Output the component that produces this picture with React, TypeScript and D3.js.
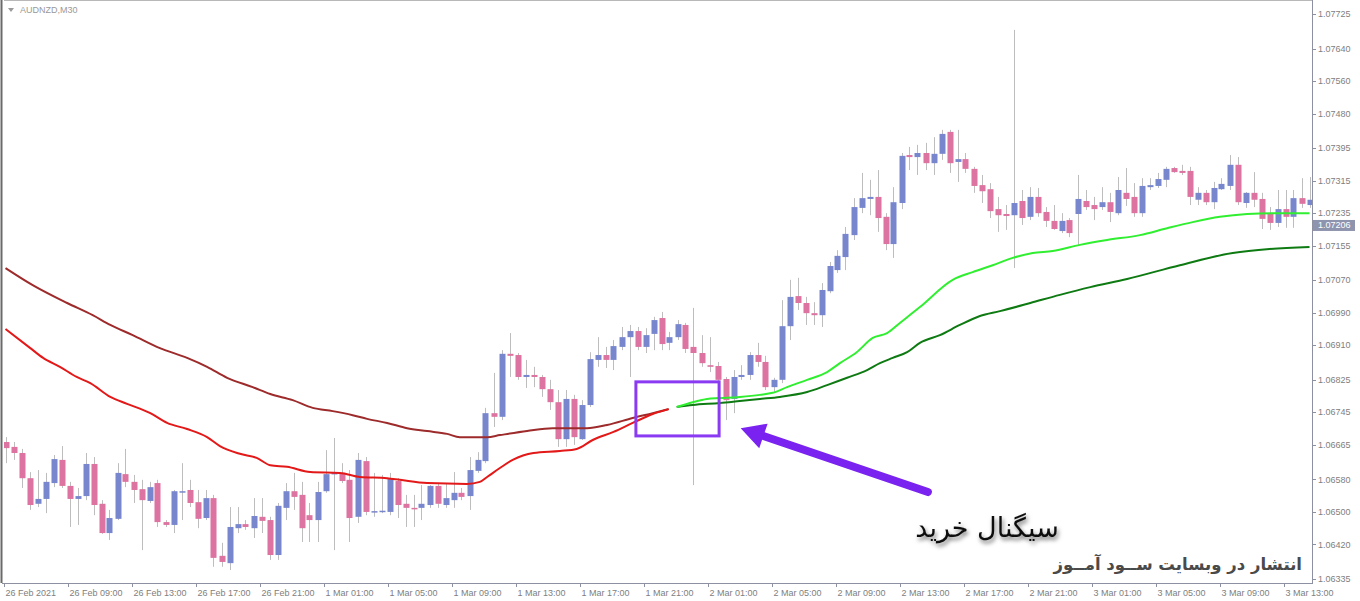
import React from "react";
import * as d3 from "d3";

// ---------- data (AUDNZD, M30) ----------
const OPEN = [1.06672,1.06660,1.06645,1.06583,1.06520,1.06532,1.06571,1.06628,1.06564,1.06532,1.06539,1.06618,1.06520,1.06448,1.06483,1.06593,1.06574,1.06556,1.06527,1.06571,1.06475,1.06468,1.06549,1.06554,1.06524,1.06485,1.06534,1.06392,1.06374,1.06460,1.06470,1.06460,1.06488,1.06480,1.06394,1.06510,1.06551,1.06542,1.06492,1.06480,1.06551,1.06593,1.06596,1.06579,1.06488,1.06625,1.06500,1.06502,1.06500,1.06576,1.06520,1.06510,1.06510,1.06517,1.06564,1.06517,1.06529,1.06547,1.06539,1.06601,1.06625,1.06743,1.06734,1.06889,1.06886,1.06832,1.06837,1.06832,1.06802,1.06770,1.06679,1.06778,1.06679,1.06763,1.06874,1.06886,1.06874,1.06906,1.06930,1.06945,1.06906,1.06938,1.06977,1.06916,1.06930,1.06960,1.06906,1.06891,1.06861,1.06859,1.06827,1.06778,1.06832,1.06837,1.06886,1.06869,1.06807,1.06825,1.06957,1.07031,1.07014,1.06989,1.06984,1.07043,1.07095,1.07127,1.07181,1.07248,1.07270,1.07275,1.07226,1.07159,1.07260,1.07378,1.07373,1.07383,1.07358,1.07381,1.07435,1.07361,1.07368,1.07344,1.07304,1.07294,1.07245,1.07233,1.07230,1.07265,1.07226,1.07275,1.07238,1.07216,1.07191,1.07218,1.07233,1.07265,1.07255,1.07250,1.07262,1.07235,1.07285,1.07275,1.07235,1.07299,1.07302,1.07317,1.07346,1.07339,1.07339,1.07268,1.07285,1.07262,1.07294,1.07302,1.07354,1.07260,1.07285,1.07270,1.07235,1.07211,1.07245,1.07226,1.07272,1.07255];
const HIGH = [1.06684,1.06672,1.06655,1.06598,1.06603,1.06596,1.06640,1.06662,1.06574,1.06559,1.06645,1.06635,1.06529,1.06505,1.06620,1.06655,1.06591,1.06579,1.06574,1.06579,1.06480,1.06554,1.06620,1.06579,1.06554,1.06554,1.06542,1.06424,1.06512,1.06512,1.06480,1.06534,1.06534,1.06488,1.06522,1.06571,1.06596,1.06574,1.06522,1.06574,1.06652,1.06682,1.06620,1.06603,1.06645,1.06635,1.06596,1.06591,1.06596,1.06583,1.06542,1.06542,1.06566,1.06566,1.06571,1.06571,1.06598,1.06559,1.06635,1.06647,1.06756,1.06842,1.06898,1.06940,1.06891,1.06874,1.06857,1.06837,1.06825,1.06800,1.06800,1.06788,1.06775,1.06893,1.06930,1.06906,1.06923,1.06955,1.06960,1.06955,1.06952,1.06980,1.06992,1.06943,1.06972,1.06965,1.07002,1.06935,1.06930,1.06869,1.06832,1.06849,1.06861,1.06893,1.06916,1.06884,1.06830,1.07021,1.07071,1.07076,1.07029,1.07016,1.07063,1.07115,1.07144,1.07201,1.07272,1.07334,1.07317,1.07341,1.07235,1.07299,1.07383,1.07398,1.07403,1.07408,1.07422,1.07440,1.07440,1.07440,1.07383,1.07349,1.07329,1.07309,1.07275,1.07255,1.07686,1.07292,1.07299,1.07297,1.07250,1.07255,1.07235,1.07223,1.07329,1.07292,1.07275,1.07299,1.07285,1.07324,1.07346,1.07309,1.07321,1.07321,1.07334,1.07349,1.07349,1.07354,1.07349,1.07299,1.07292,1.07312,1.07321,1.07378,1.07373,1.07287,1.07336,1.07285,1.07250,1.07292,1.07292,1.07292,1.07321,1.07324];
const LOW = [1.06620,1.06628,1.06559,1.06505,1.06512,1.06497,1.06561,1.06559,1.06463,1.06468,1.06529,1.06492,1.06446,1.06431,1.06480,1.06561,1.06522,1.06406,1.06522,1.06463,1.06463,1.06448,1.06480,1.06512,1.06460,1.06480,1.06365,1.06365,1.06357,1.06448,1.06456,1.06436,1.06448,1.06382,1.06382,1.06480,1.06505,1.06426,1.06426,1.06426,1.06547,1.06406,1.06571,1.06426,1.06473,1.06492,1.06488,1.06497,1.06492,1.06485,1.06463,1.06463,1.06480,1.06510,1.06510,1.06510,1.06510,1.06529,1.06505,1.06596,1.06620,1.06709,1.06726,1.06832,1.06825,1.06805,1.06807,1.06783,1.06751,1.06660,1.06660,1.06665,1.06677,1.06758,1.06857,1.06854,1.06849,1.06898,1.06832,1.06898,1.06891,1.06898,1.06898,1.06898,1.06923,1.06891,1.06566,1.06857,1.06844,1.06812,1.06726,1.06743,1.06825,1.06825,1.06857,1.06800,1.06795,1.06817,1.06923,1.06997,1.06960,1.06960,1.06955,1.07038,1.07088,1.07095,1.07169,1.07235,1.07230,1.07189,1.07144,1.07125,1.07245,1.07341,1.07329,1.07341,1.07329,1.07366,1.07334,1.07312,1.07334,1.07285,1.07260,1.07223,1.07189,1.07194,1.07100,1.07206,1.07218,1.07226,1.07201,1.07194,1.07186,1.07176,1.07157,1.07243,1.07218,1.07243,1.07213,1.07230,1.07253,1.07226,1.07226,1.07292,1.07297,1.07299,1.07334,1.07329,1.07255,1.07255,1.07255,1.07245,1.07292,1.07292,1.07255,1.07248,1.07250,1.07196,1.07194,1.07201,1.07199,1.07199,1.07248,1.07248];
const CLOSE = [1.06657,1.06645,1.06583,1.06517,1.06532,1.06574,1.06630,1.06564,1.06532,1.06539,1.06618,1.06517,1.06448,1.06485,1.06596,1.06574,1.06554,1.06529,1.06561,1.06475,1.06468,1.06551,1.06551,1.06522,1.06483,1.06534,1.06387,1.06377,1.06463,1.06470,1.06463,1.06490,1.06478,1.06394,1.06515,1.06551,1.06537,1.06460,1.06480,1.06549,1.06593,1.06596,1.06576,1.06485,1.06628,1.06500,1.06502,1.06503,1.06583,1.06517,1.06510,1.06507,1.06520,1.06564,1.06520,1.06534,1.06547,1.06537,1.06603,1.06628,1.06743,1.06734,1.06889,1.06884,1.06832,1.06837,1.06832,1.06802,1.06770,1.06679,1.06778,1.06684,1.06763,1.06876,1.06886,1.06874,1.06908,1.06930,1.06945,1.06906,1.06935,1.06972,1.06913,1.06930,1.06962,1.06901,1.06891,1.06866,1.06857,1.06825,1.06775,1.06832,1.06837,1.06886,1.06869,1.06807,1.06825,1.06957,1.07029,1.07014,1.06989,1.06984,1.07046,1.07105,1.07130,1.07184,1.07250,1.07272,1.07275,1.07223,1.07159,1.07262,1.07376,1.07373,1.07383,1.07358,1.07381,1.07430,1.07358,1.07368,1.07344,1.07302,1.07289,1.07240,1.07230,1.07228,1.07260,1.07223,1.07275,1.07235,1.07216,1.07196,1.07216,1.07186,1.07270,1.07250,1.07245,1.07262,1.07238,1.07292,1.07270,1.07235,1.07302,1.07304,1.07319,1.07344,1.07336,1.07334,1.07275,1.07285,1.07262,1.07297,1.07307,1.07354,1.07262,1.07285,1.07268,1.07221,1.07211,1.07245,1.07226,1.07272,1.07258,1.07268];

// moving averages, read as [bar index, price]
const MA_SLOW_DOWN = [[0,1.07100],[3.4,1.07058],[7.7,1.07014],[10.9,1.06984],[13.1,1.06960],[15.9,1.06935],[19.3,1.06903],[22.7,1.06879],[25.2,1.06857],[27.7,1.06830],[30.9,1.06807],[33.1,1.06790],[35.9,1.06775],[38.4,1.06756],[40.9,1.06748],[43.4,1.06738],[45.2,1.06729],[47.7,1.06719],[50.2,1.06706],[52.7,1.06699],[55.2,1.06692],[56.8,1.06684],[60.2,1.06684],[61.8,1.06689],[65.2,1.06699],[68.4,1.06706],[72.7,1.06706],[75.2,1.06714],[78.4,1.06731],[80.9,1.06743],[82.9,1.06753]];
const MA_FAST_DOWN = [[0,1.06950],[3.1,1.06903],[4.7,1.06879],[6.8,1.06857],[8.9,1.06832],[10.6,1.06817],[13.1,1.06783],[15.2,1.06766],[18.1,1.06743],[20.2,1.06719],[22.7,1.06704],[25.2,1.06684],[26.8,1.06662],[29.3,1.06643],[31.4,1.06633],[33.1,1.06615],[35.2,1.06611],[38.1,1.06598],[41.8,1.06596],[44.3,1.06586],[47.7,1.06583],[49.3,1.06579],[52.7,1.06571],[57.7,1.06569],[59.3,1.06574],[60.2,1.06586],[61.8,1.06608],[63.4,1.06628],[66,1.06645],[69.3,1.06650],[71.4,1.06655],[73.4,1.06677],[76,1.06697],[78.4,1.06719],[80.9,1.06741],[82.9,1.06753]];
const MA_FAST_UP = [[83.9,1.06758],[85.9,1.06770],[87.7,1.06778],[89.3,1.06780],[91.8,1.06783],[94.3,1.06788],[95.9,1.06793],[97.7,1.06807],[100.2,1.06825],[102.7,1.06844],[104.3,1.06866],[106.4,1.06893],[108.4,1.06928],[110.2,1.06940],[111.8,1.06965],[114.3,1.07004],[118.4,1.07071],[120.9,1.07090],[123.4,1.07107],[125.9,1.07125],[128.4,1.07137],[130.9,1.07142],[134.3,1.07157],[137.7,1.07169],[141.8,1.07181],[145.2,1.07198],[148.4,1.07213],[151.8,1.07226],[155.2,1.07233],[158.4,1.07235],[163,1.07235]];
const MA_SLOW_UP = [[83.9,1.06758],[85.9,1.06763],[89.3,1.06768],[91.8,1.06773],[94.3,1.06778],[96.8,1.06783],[100.2,1.06795],[102.7,1.06812],[105.2,1.06830],[107.7,1.06849],[109.3,1.06866],[110.9,1.06879],[112.7,1.06893],[114.3,1.06916],[116.8,1.06935],[119.3,1.06960],[121.8,1.06982],[124.3,1.06994],[128.1,1.07014],[131.8,1.07034],[135.6,1.07053],[140.2,1.07073],[146.8,1.07107],[153.4,1.07137],[158,1.07147],[163,1.07152]];

const PRICE_TICKS = [1.07725,1.07640,1.07560,1.07480,1.07395,1.07315,1.07235,1.07155,1.07070,1.06990,1.06910,1.06825,1.06745,1.06665,1.06580,1.06500,1.06420,1.06335];
const TIME_LABELS = ["26 Feb 2021","26 Feb 09:00","26 Feb 13:00","26 Feb 17:00","26 Feb 21:00","1 Mar 01:00","1 Mar 05:00","1 Mar 09:00","1 Mar 13:00","1 Mar 17:00","1 Mar 21:00","2 Mar 01:00","2 Mar 05:00","2 Mar 09:00","2 Mar 13:00","2 Mar 17:00","2 Mar 21:00","3 Mar 01:00","3 Mar 05:00","3 Mar 09:00","3 Mar 13:00"];
const BARS_PER_LABEL = 8;
const CURRENT_PRICE = 1.07206;
const TITLE = "AUDNZD,M30";
const SIGNAL_TEXT = "سیگنال خرید";
const WATERMARK = "انتشار در وبسایت ســود آمــوز";
// signal box (bar range / price range) and arrow (tail -> tip) in data units
const SIGNAL_BOX = { bar0: 78.8, bar1: 89.2, top: 1.06820, bottom: 1.06687 };
const ARROW = { tailBar: 115.3, tailPrice: 1.06549, tipBar: 91.9, tipPrice: 1.06706 };

// ---------- style ----------
const W = 1360, H = 601;
const PLOT = { left: 4, right: 1312, top: 1, bottom: 583 };
const BULL = "#7887cd";
const BEAR = "#dc73a0";
const WICK = "#bdbdbd";
const AXIS_TEXT = "#808080";
const PURPLE = "#7a22f0";

export default function App() {
  const n = OPEN.length;
  const x = d3.scaleLinear().domain([0, n - 1]).range([5.5, 1309.5]);
  const y = d3.scaleLinear().domain([1.06335, 1.07725]).range([579, 14]);
  const line = d3
    .line<number[]>()
    .x((d) => x(d[0]))
    .y((d) => y(d[1]))
    .curve(d3.curveMonotoneX);

  const bw = 6;
  const tipX = x(ARROW.tipBar), tipY = y(ARROW.tipPrice);
  const tailX = x(ARROW.tailBar), tailY = y(ARROW.tailPrice);
  const ang = Math.atan2(tailY - tipY, tailX - tipX);
  const headLen = 24, headHalf = 13;
  const bx = tipX + Math.cos(ang) * headLen, by = tipY + Math.sin(ang) * headLen;
  const px = -Math.sin(ang), py = Math.cos(ang);
  const head = [
    [tipX, tipY],
    [bx + px * headHalf, by + py * headHalf],
    [bx - px * headHalf, by - py * headHalf],
  ];

  return (
    <div style={{ position: "absolute", left: 0, top: 0, width: W, height: H, background: "#fff" }}>
      <svg width={W} height={H} viewBox={`0 0 ${W} ${H}`} style={{ display: "block" }}>
        <defs>
          <clipPath id="plotclip">
            <rect x={PLOT.left} y={PLOT.top} width={PLOT.right - PLOT.left} height={PLOT.bottom - PLOT.top} />
          </clipPath>
          <filter id="txtshadow" x="-10%" y="-30%" width="120%" height="180%">
            <feDropShadow dx="1.5" dy="3" stdDeviation="2" floodColor="#000" floodOpacity="0.55" />
          </filter>
        </defs>
        <rect x={0} y={0} width={W} height={H} fill="#fff" />

        {/* frame */}
        <line x1={1.5} y1={0} x2={1.5} y2={PLOT.bottom} stroke="#6a6a6a" strokeWidth={2} />
        <line x1={PLOT.left} y1={0.5} x2={PLOT.right} y2={0.5} stroke="#b8b8b8" />
        <line x1={PLOT.right + 0.5} y1={0} x2={PLOT.right + 0.5} y2={PLOT.bottom + 1} stroke="#8c90a0" />
        <line x1={2} y1={PLOT.bottom + 0.5} x2={PLOT.right + 1} y2={PLOT.bottom + 0.5} stroke="#8c90a0" />

        <g clipPath="url(#plotclip)">
          {/* candles */}
          {OPEN.map((o, i) => {
            const c = CLOSE[i];
            const cx = Math.round(x(i));
            const top = y(Math.max(o, c));
            const bot = y(Math.min(o, c));
            const up = c >= o;
            return (
              <g key={i}>
                <line x1={cx + 0.5} x2={cx + 0.5} y1={y(HIGH[i])} y2={y(LOW[i])} stroke={WICK} strokeWidth={1} />
                <rect x={cx - bw / 2 + 0.5} y={top} width={bw} height={Math.max(1.5, bot - top)} fill={up ? BULL : BEAR} />
              </g>
            );
          })}

          {/* moving averages */}
          <path d={line(MA_SLOW_DOWN as number[][]) || ""} fill="none" stroke="#9e2b2b" strokeWidth={2} />
          <path d={line(MA_FAST_DOWN as number[][]) || ""} fill="none" stroke="#e31818" strokeWidth={2} />
          <path d={line(MA_SLOW_UP as number[][]) || ""} fill="none" stroke="#0e7a12" strokeWidth={2} />
          <path d={line(MA_FAST_UP as number[][]) || ""} fill="none" stroke="#30ee30" strokeWidth={2} />

          {/* signal box */}
          <rect
            x={x(SIGNAL_BOX.bar0)}
            y={y(SIGNAL_BOX.top)}
            width={x(SIGNAL_BOX.bar1) - x(SIGNAL_BOX.bar0)}
            height={y(SIGNAL_BOX.bottom) - y(SIGNAL_BOX.top)}
            fill="none"
            stroke="#8a3af2"
            strokeWidth={3}
          />

          {/* arrow */}
          <line x1={tailX} y1={tailY} x2={bx} y2={by} stroke={PURPLE} strokeWidth={8} strokeLinecap="round" />
          <polygon points={head.map((p) => p.join(",")).join(" ")} fill={PURPLE} />

          {/* texts */}
          <text x={987} y={537} textAnchor="middle" fontFamily="'DejaVu Sans', sans-serif" fontSize={27} fill="#111" filter="url(#txtshadow)">
            {SIGNAL_TEXT}
          </text>
          <text x={1302} y={570} textAnchor="end" fontFamily="'DejaVu Sans', sans-serif" fontSize={16.5} fontWeight="bold" fill="#4a4a4a">
            {WATERMARK}
          </text>
        </g>

        {/* title */}
        <path d="M8,8 L14,8 L11,12 Z" fill="#9a9a9a" />
        <text x={20} y={13} fontFamily="'Liberation Sans', Arial, sans-serif" fontSize={9} fill="#999">
          {TITLE}
        </text>

        {/* price axis */}
        {PRICE_TICKS.map((v) => (
          <g key={v}>
            <line x1={PLOT.right} x2={PLOT.right + 4} y1={Math.round(y(v)) + 0.5} y2={Math.round(y(v)) + 0.5} stroke="#8c90a0" />
            <text x={PLOT.right + 6} y={y(v)} dy="0.35em" fontFamily="'Liberation Sans', Arial, sans-serif" fontSize={9} fill={AXIS_TEXT}>
              {v.toFixed(5)}
            </text>
          </g>
        ))}
        <rect x={PLOT.right + 1} y={y(CURRENT_PRICE) - 5} width={42} height={11} fill="#8e94ae" />
        <text x={PLOT.right + 6} y={y(CURRENT_PRICE)} dy="0.35em" fontFamily="'Liberation Sans', Arial, sans-serif" fontSize={9} fill="#fff">
          {CURRENT_PRICE.toFixed(5)}
        </text>

        {/* time axis */}
        {TIME_LABELS.map((lbl, k) => {
          const tx = Math.round(x(k * BARS_PER_LABEL) - 1.5) + 0.5;
          return (
            <g key={lbl}>
              <line x1={tx} x2={tx} y1={PLOT.bottom} y2={PLOT.bottom + 4} stroke="#8c90a0" />
              <text x={tx + 1} y={596} fontFamily="'Liberation Sans', Arial, sans-serif" fontSize={9} fill={AXIS_TEXT}>
                {lbl}
              </text>
            </g>
          );
        })}
      </svg>
    </div>
  );
}
